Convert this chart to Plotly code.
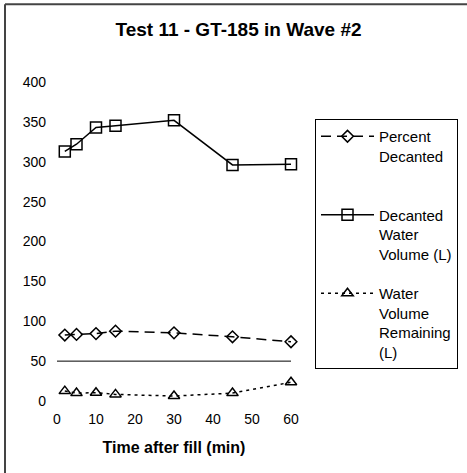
import plotly.graph_objects as go

time_min = [2, 5, 10, 15, 30, 45, 60]
percent_decanted = [82.7, 83.5, 84.5, 87.6, 85.5, 80.5, 74.3]
decanted_volume = [313, 322, 343, 345, 352, 296, 297]
volume_remaining = [12.4, 9.9, 10.4, 8.3, 6.2, 9.9, 23.5]

x_ticks = [0, 10, 20, 30, 40, 50, 60]
y_ticks = [0, 50, 100, 150, 200, 250, 300, 350, 400]

names = ["Percent<br>Decanted<br> ",
         "Decanted<br>Water<br>Volume (L)",
         "Water<br>Volume<br>Remaining<br>(L)"]

fig = go.Figure()
fig.add_trace(go.Scatter(
    x=time_min, y=percent_decanted, name=names[0], mode="lines+markers", legendgroup="a",
    line=dict(color="black", width=1.5, dash="10px,6px"),
    marker=dict(symbol="diamond-open", size=9, color="black", line=dict(width=1.5))))
fig.add_trace(go.Scatter(
    x=time_min, y=decanted_volume, name=names[1], mode="lines+markers", legendgroup="b",
    line=dict(color="black", width=1.5),
    marker=dict(symbol="square-open", size=11, color="black", line=dict(width=1.5))))
fig.add_trace(go.Scatter(
    x=time_min, y=volume_remaining, name=names[2], mode="lines+markers", legendgroup="c",
    line=dict(color="black", width=1.5, dash="3px,4px"),
    marker=dict(symbol="triangle-up-open", size=10, color="black", line=dict(width=1.5))))

fig.add_shape(type="line", xref="x", yref="y", x0=0, x1=60, y0=50, y1=50,
              line=dict(color="black", width=1), layer="below")

# outer chart border (top and left edges visible)
bx0 = (5 - 57) / 234
by1 = (400.7 - 4) / 319
fig.add_shape(type="line", xref="paper", yref="paper", x0=bx0, x1=(470 - 57) / 234,
              y0=by1, y1=by1, line=dict(color="#444", width=2))
fig.add_shape(type="line", xref="paper", yref="paper", x0=bx0, x1=bx0,
              y0=by1, y1=(400.7 - 480) / 319, line=dict(color="#444", width=2))

fig.update_layout(
    width=467, height=473,
    margin=dict(l=57, r=176, t=82, b=72, autoexpand=False),
    paper_bgcolor="white", plot_bgcolor="white",
    font=dict(family="Liberation Sans, Arial", color="black", size=14),
    title=dict(text="<b>Test 11 - GT-185 in Wave #2</b>", x=238.5 / 467, xref="container",
               xanchor="center", y=1 - 29 / 473, yanchor="middle",
               font=dict(size=19)),
    showlegend=True,
    legend=dict(xref="container", yref="container",
                x=315 / 467, xanchor="left", y=1 - 119 / 473, yanchor="top",
                bordercolor="black", borderwidth=1, bgcolor="white", maxheight=340,
                font=dict(size=15), valign="top", itemwidth=53, tracegroupgap=17),
    xaxis=dict(range=[0, 60], tickvals=x_ticks, showgrid=False, zeroline=False,
               showline=False, ticks="", ticklabelstandoff=8,
               title=dict(text="<b>Time after fill (min)</b>", font=dict(size=16), standoff=15)),
    yaxis=dict(range=[0, 400], tickvals=y_ticks, showgrid=False, zeroline=False,
               showline=False, ticks="", ticklabelstandoff=10),
)
for tr in fig.data:
    tr.cliponaxis = False

fig.write_html("out.html", config={"displayModeBar": False},
               post_script="document.body.style.margin='0';document.body.style.overflow='hidden';"
                           "document.documentElement.style.overflow='hidden';")
